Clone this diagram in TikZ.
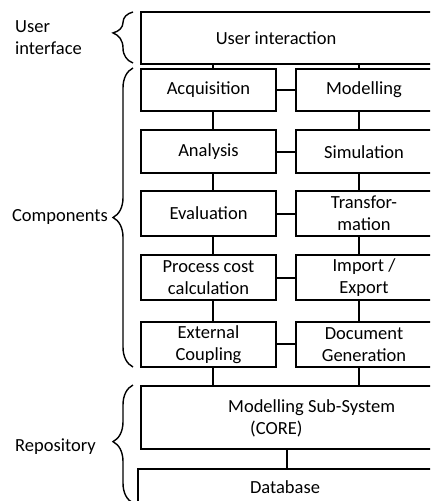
\documentclass[tikz,border=0pt]{standalone}
\usepackage{fontspec}
\setmainfont{Carlito}
\usetikzlibrary{decorations.pathreplacing}
\tikzset{
  box/.style={draw=black, line width=2bp, inner sep=0pt, align=center},
  lbl/.style={inner sep=0pt, align=center, font=\fontsize{18.5bp}{22bp}\selectfont},
  conn/.style={draw=black, line width=2bp},
  brc/.style={draw=black, line width=1.4bp, decorate, decoration={brace, amplitude=20bp, aspect=#1}},
}
\begin{document}
\begin{tikzpicture}[x=1bp, y=-1bp]
\useasboundingbox (0,0) rectangle (430,501);
\clip (0,0) rectangle (430,501);
% column coordinates for connectors
\coordinate (cl) at (213,0);
\coordinate (cr) at (359,0);
\coordinate (cm) at (287,0);
% user interface
\node[box, minimum width=291bp, minimum height=52bp] (ui) at (286.5,38) {};
\node[lbl] (uit) at (276,38) {User interaction};
% rows
\node[box, lbl, minimum width=135bp, minimum height=42bp] (acq) at (208.5,90) {Acquisition};
\node[box, lbl, minimum width=136bp, minimum height=42bp] (mod) at (364,90) {Modelling};
\node[box, lbl, minimum width=135bp, minimum height=43.5bp] (ana) at (208.5,151.75) {Analysis};
\node[box, lbl, minimum width=136bp, minimum height=43.5bp] (sim) at (364,151.75) {Simulation};
\node[box, lbl, minimum width=135bp, minimum height=45bp] (eva) at (208.5,213.5) {Evaluation};
\node[box, lbl, minimum width=136bp, minimum height=45bp] (tra) at (364,213.5) {Transfor-\\mation};
\node[box, lbl, minimum width=135bp, minimum height=45bp] (pcc) at (208.5,277.5) {Process cost\\calculation};
\node[box, lbl, minimum width=136bp, minimum height=45bp] (imp) at (364,277.5) {Import /\\Export};
\node[box, lbl, minimum width=135bp, minimum height=44.5bp] (ext) at (208.5,344.25) {External\\Coupling};
\node[box, lbl, minimum width=136bp, minimum height=44.5bp] (doc) at (364,344.25) {Document\\Generation};
% repository
\node[box, minimum width=291bp, minimum height=62.5bp] (mss) at (286.5,417.25) {};
\node[lbl, align=left, anchor=west] (msst) at (228,418) {Modelling Sub-System\\\hspace*{22bp}(CORE)};
\node[box, minimum width=294.5bp, minimum height=41.5bp] (db) at (284.75,489.25) {};
\node[lbl] (dbt) at (285,487) {Database};
% connectors
\draw[conn] (ui.south -| cl) -- (acq.north -| cl);
\draw[conn] (ui.south -| cr) -- (mod.north -| cr);
\draw[conn] (acq.south -| cl) -- (ana.north -| cl);
\draw[conn] (mod.south -| cr) -- (sim.north -| cr);
\draw[conn] (ana.south -| cl) -- (eva.north -| cl);
\draw[conn] (sim.south -| cr) -- (tra.north -| cr);
\draw[conn] (eva.south -| cl) -- (pcc.north -| cl);
\draw[conn] (tra.south -| cr) -- (imp.north -| cr);
\draw[conn] (pcc.south -| cl) -- (ext.north -| cl);
\draw[conn] (imp.south -| cr) -- (doc.north -| cr);
\draw[conn] (ext.south -| cl) -- (mss.north -| cl);
\draw[conn] (doc.south -| cr) -- (mss.north -| cr);
\draw[conn] (mss.south -| cm) -- (db.north -| cm);
\draw[conn] (acq.east) -- (mod.west);
\draw[conn] (ana.east) -- (sim.west);
\draw[conn] (eva.east) -- (tra.west);
\draw[conn] (pcc.east) -- (imp.west);
\draw[conn] (ext.east) -- (doc.west);
% braces
\coordinate (b1s) at (133,63);
\coordinate (b1e) at (133,12);
\coordinate (b2s) at (133,367);
\coordinate (b2e) at (133,68);
\coordinate (b3s) at (133,503);
\coordinate (b3e) at (133,385);
\draw[brc=0.59] (b1s) -- (b1e);
\draw[brc=0.5] (b2s) -- (b2e);
\draw[brc=0.52] (b3s) -- (b3e);
% labels
\node[lbl, align=left, anchor=west] (lui) at (15,38) {User\\interface};
\node[lbl, anchor=east] (lco) at (108,216.7) {Components};
\node[lbl, anchor=west] (lre) at (15,447) {Repository};
\end{tikzpicture}
\end{document}
